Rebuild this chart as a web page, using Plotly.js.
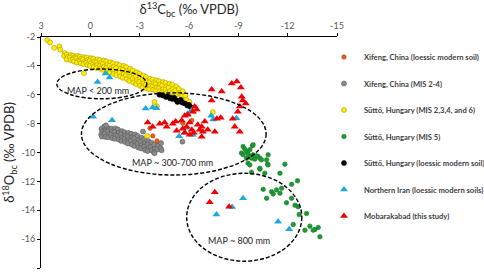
<!DOCTYPE html>
<html>
<head>
<meta charset="utf-8">
<script src="https://cdn.plot.ly/plotly-3.0.1.min.js"></script>
<style>html,body{margin:0;padding:0;background:#fff;}#chart{width:484px;height:273px;}</style>
</head>
<body>
<div id="chart"></div>
<script>
// ---- tick labels ----
const xTickVals = [3, 0, -3, -6, -9, -12, -15];
const xTickText = ["3", "0", "-3", "-6", "-9", "-12", "-15"];
const yTickVals = [-2, -4, -6, -8, -10, -12, -14, -16, -18];
const yTickText = ["-2", "-4", "-6", "-8", "-10", "-12", "-14", "-16", "-18"];

// ---- series names ----
const seriesNames = [
  "Xifeng, China (loessic modern soil)",
  "Xifeng, China (MIS 2-4)",
  "Süttő, Hungary (MIS 2,3,4, and 6)",
  "Süttő, Hungary (MIS 5)",
  "Süttő, Hungary (loessic modern soil)",
  "Northern Iran (loessic modern soils)",
  "Mobarakabad (this study)"
];

// ---- Xifeng loessic modern soil (orange) ----
const xifengModernC = [-3.63, -3.8, -4.05, -5.62, -6.17];
const xifengModernO = [-8.32, -8.85, -9.2, -7.97, -7.79];

// ---- Xifeng MIS 2-4 (gray) ----
const xifengMisC = [
  -0.68,-0.72,-0.66,-0.71, -0.88,-0.93,-0.87,-0.92, -1.12,-1.07,-1.13,-1.08,
  -1.28,-1.33,-1.27,-1.32, -1.52,-1.47,-1.53,-1.48, -1.68,-1.73,-1.67,-1.72,
  -1.92,-1.87,-1.93,-1.88, -2.08,-2.13,-2.07,-2.12, -2.32,-2.27,-2.33,-2.28,
  -2.48,-2.53,-2.47,-2.52, -2.72,-2.67,-2.73,-2.68, -2.88,-2.93,-2.87,-2.92,
  -3.12,-3.07,-3.13,-3.08, -3.28,-3.33,-3.27,-3.32, -3.52,-3.47,-3.53,-3.48,
  -3.72,-3.67,-3.73, -3.88,-3.93,-3.87, -4.12,-4.07, -4.28,-4.33,
  -0.85,-0.95, -3.2, -4.3, -5.6, -3.9
];
const xifengMisO = [
  -8.35,-8.55,-8.75,-8.9, -8.28,-8.48,-8.68,-8.92, -8.32,-8.52,-8.72,-8.95,
  -8.35,-8.55,-8.78,-9.0, -8.33,-8.58,-8.82,-9.05, -8.4,-8.62,-8.85,-9.1,
  -8.52,-8.75,-8.98,-9.2, -8.6,-8.82,-9.05,-9.28, -8.65,-8.9,-9.15,-9.38,
  -8.7,-8.95,-9.2,-9.45, -8.75,-9.02,-9.3,-9.55, -8.85,-9.12,-9.4,-9.65,
  -8.98,-9.25,-9.5,-9.72, -9.08,-9.35,-9.6,-9.82, -9.2,-9.45,-9.7,-9.9,
  -9.32,-9.6,-9.85, -9.45,-9.75,-10.0, -9.5,-9.8, -9.7,-9.85,
  -8.2,-8.12, -8.55, -9.35, -9.25, -10.05
];

// ---- Süttő MIS 2,3,4 and 6 (yellow) ----
const suttoMisC = [
  2.62, 2.45, 2.2, 1.88, 1.83, 0.38, 1.55, 1.6,
  1.42, 1.36, 1.44, 1.18, 1.24, 1.2,
  1.03, 0.97, 1.05, 0.99, 0.78, 0.84, 0.76, 0.82,
  0.63, 0.57, 0.62, 0.58, 0.38, 0.44, 0.36, 0.42,
  0.22, 0.17, 0.24, 0.18, -0.03, 0.04, -0.02, 0.03,
  -0.18, -0.24, -0.17, -0.22, -0.43, -0.37, -0.42, -0.38,
  -0.57, -0.63, -0.58, -0.62, -0.82, -0.77, -0.83, -0.78,
  -0.97, -1.03, -0.98, -1.02, -1.22, -1.17, -1.23, -1.18,
  -1.38, -1.43, -1.37, -1.42, -1.62, -1.57, -1.63, -1.58,
  -1.78, -1.83, -1.77, -1.82, -2.02, -1.97, -2.03, -1.98,
  -2.18, -2.23, -2.17, -2.22, -2.42, -2.37, -2.43, -2.38,
  -2.58, -2.63, -2.57, -2.62, -2.82, -2.77, -2.83, -2.78,
  -2.98, -3.03, -2.97, -3.02, -3.22, -3.17, -3.23, -3.18,
  -3.38, -3.43, -3.37, -3.42, -3.62, -3.57, -3.63, -3.58,
  -3.78, -3.83, -3.77, -3.82, -4.02, -3.97, -4.03, -3.98,
  -4.18, -4.23, -4.17, -4.22, -4.42, -4.37, -4.43, -4.38,
  -4.58, -4.63, -4.57, -4.62, -4.82, -4.77, -4.83,
  -4.98, -5.03, -4.97, -5.22, -5.17, -5.23,
  -5.38, -5.43, -5.62, -5.57, -5.78, -5.83, -6.02,
  -3.9, -4.05, -6.3, -7.45, -3.45
];
const suttoMisO = [
  -2.22, -2.38, -2.75, -2.66, -2.88, -4.5, -3.12, -3.3,
  -3.22, -3.38, -3.55, -3.25, -3.4, -3.6,
  -3.28, -3.42, -3.56, -3.7, -3.32, -3.48, -3.64, -3.76,
  -3.36, -3.52, -3.68, -3.82, -3.4, -3.56, -3.72, -3.88,
  -3.42, -3.6, -3.78, -3.94, -3.46, -3.64, -3.82, -4.0,
  -3.5, -3.7, -3.9, -4.06, -3.55, -3.75, -3.95, -4.14,
  -3.6, -3.8, -4.0, -4.2, -3.64, -3.86, -4.08, -4.28,
  -3.68, -3.9, -4.14, -4.36, -3.75, -3.98, -4.22, -4.45,
  -3.82, -4.06, -4.3, -4.55, -3.88, -4.14, -4.4, -4.64,
  -3.95, -4.22, -4.48, -4.74, -4.0, -4.28, -4.56, -4.82,
  -4.08, -4.36, -4.64, -4.92, -4.2, -4.48, -4.76, -5.04,
  -4.32, -4.6, -4.88, -5.15, -4.44, -4.72, -5.0, -5.26,
  -4.55, -4.84, -5.12, -5.38, -4.66, -4.94, -5.22, -5.5,
  -4.78, -5.05, -5.32, -5.56, -4.9, -5.15, -5.4, -5.62,
  -4.95, -5.2, -5.45, -5.66, -5.0, -5.25, -5.5, -5.72,
  -5.06, -5.3, -5.55, -5.76, -5.12, -5.36, -5.6, -5.82,
  -5.18, -5.42, -5.66, -5.88, -5.24, -5.5, -5.75,
  -5.3, -5.58, -5.85, -5.42, -5.7, -6.0,
  -5.6, -5.9, -5.75, -6.1, -6.05, -6.35, -6.5,
  -6.5, -6.8, -7.15, -7.2, -8.85
];

// ---- Süttő MIS 5 (green) ----
const suttoMis5C = [
  -9.29, -9.39, -9.5, -9.19, -9.29, -9.59, -9.7, -9.8, -9.5, -9.9,
  -10.0, -10.2, -10.31, -10.41, -9.86, -9.59, -9.7, -10.72, -10.78, -10.31,
  -9.8, -10.61, -11.53, -11.83, -9.9, -9.7, -10.11, -12.6, -12.24,
  -10.51, -11.02, -11.32, -11.53, -11.63, -11.12, -11.93, -10.72, -12.24,
  -12.64, -13.15, -13.35, -13.66, -13.86, -13.55, -13.96, -13.05, -12.34,
  -10.81, -10.31, -12.45, -12.7, -10.81
];
const suttoMis5O = [
  -9.58, -9.76, -9.93, -10.04, -10.16, -10.09, -10.28, -10.39, -10.39, -10.16,
  -10.46, -10.28, -10.39, -10.51, -9.53, -10.74, -10.86, -10.51, -10.81, -11.16,
  -11.36, -11.43, -11.43, -10.81, -9.46, -9.81, -10.23, -11.96, -12.2,
  -12.55, -12.71, -12.59, -12.82, -12.48, -12.87, -13.48, -13.17, -13.17,
  -13.76, -14.22, -15.1, -15.33, -15.19, -15.38, -15.84, -15.38, -14.98,
  -10.86, -11.09, -13.65, -14.3, -10.16
];

// ---- Süttő loessic modern soil (black) ----
const suttoModernC = [-4.2, -4.4, -4.6, -4.7, -4.85, -5.0, -5.1, -5.25, -5.4, -5.5, -5.6, -5.75, -5.9, -6.0, -6.1, -5.3, -4.9];
const suttoModernO = [-6.0, -6.05, -6.15, -6.1, -6.25, -6.3, -6.2, -6.4, -6.45, -6.35, -6.55, -6.6, -6.75, -6.7, -6.85, -6.5, -6.2];

// ---- Northern Iran loessic modern soils (blue triangles) ----
const iranC = [-0.93, -1.17, -0.44, -0.17, -1.32, -3.36, -3.79, -4.03, -6.14, -5.92, -7.35, -7.47, -8.88, -5.83, -5.74, -6.23, -5.4, -9.29, -8.62, -7.67, -11.42, -12.09];
const iranO = [-4.53, -4.8, -5.12, -7.52, -7.76, -6.96, -6.89, -6.93, -7.1, -7.31, -7.45, -7.72, -7.62, -8.28, -8.63, -8.77, -8.87, -13.17, -13.78, -14.3, -14.8, -15.31];

// ---- Mobarakabad (red triangles) ----
const mobarakabadC = [
  -3.49, -3.79, -4.22, -4.52, -4.64, -5.01, -5.19, -5.25, -5.56, -5.62,
  -5.74, -5.86, -5.74, -5.92, -6.04, -6.17, -6.29, -6.04, -6.35, -6.47,
  -6.23, -6.65, -6.77, -6.84, -6.77, -6.96, -7.14, -7.57, -7.38, -7.38,
  -7.99, -7.69, -7.93, -8.6, -8.91, -9.15, -9.21, -9.27, -9.45, -9.09,
  -8.97, -8.66, -8.78, -9.09, -6.53, -7.57, -7.26, -8.44
];
const mobarakabadO = [
  -7.93, -8.21, -8.0, -7.93, -8.21, -8.0, -7.86, -8.49, -7.79, -8.35,
  -7.45, -8.21, -8.63, -7.38, -7.93, -8.42, -8.63, -8.77, -6.82, -7.03,
  -7.17, -8.42, -8.21, -8.56, -8.91, -7.86, -8.42, -8.56, -5.64, -6.4,
  -5.78, -7.66, -7.59, -5.22, -5.08, -5.5, -6.13, -6.4, -6.61, -6.82,
  -7.17, -7.66, -8.21, -8.56, -8.07, -12.76, -13.45, -13.76
];

// ---- MAP zones (ellipses) and labels ----
const zoneLabels = ["MAP < 200 mm", "MAP ~ 300-700 mm", "MAP ~ 800 mm"];
const zoneLabelC = [-0.47, -4.97, -9.04];
const zoneLabelO = [-5.73, -10.66, -16.08];
const zoneC0 = [2.04, 0.54, -5.86];
const zoneC1 = [-3.43, -10.69, -12.86];
const zoneO0 = [-4.22, -5.87, -11.44];
const zoneO1 = [-6.28, -11.56, -17.53];

const FONT = "Lato, 'Open Sans', 'DejaVu Sans', sans-serif";

function circleTrace(i, xs, ys, fill, edge, rank, size) {
  return {
    type: "scatter", mode: "markers", x: xs, y: ys, name: seriesNames[i],
    legendgroup: "g" + i, legendrank: rank,
    marker: {symbol: "circle", size: size || 5, color: fill, line: {color: edge, width: 0.6}},
    hoverinfo: "x+y"
  };
}
function triTrace(i, xs, ys, fill, rank) {
  return {
    type: "scatter", mode: "markers", x: xs, y: ys, name: seriesNames[i],
    legendgroup: "g" + i, legendrank: rank,
    marker: {symbol: "triangle-up", size: 7, color: fill, line: {width: 0}},
    hoverinfo: "x+y"
  };
}

const traces = [
  circleTrace(1, xifengMisC, xifengMisO, "#8a8a8a", "#5a5a5a", 2),
  circleTrace(0, xifengModernC, xifengModernO, "#e2601b", "#b24a12", 1, 4.5),
  circleTrace(2, suttoMisC, suttoMisO, "#ffeb00", "#a89a10", 3),
  circleTrace(3, suttoMis5C, suttoMis5O, "#1e9a34", "#177a28", 4, 4.5),
  circleTrace(4, suttoModernC, suttoModernO, "#000000", "#000000", 5),
  triTrace(5, iranC, iranO, "#1fa8e0", 6),
  triTrace(6, mobarakabadC, mobarakabadO, "#f00000", 7)
];

const shapes = zoneC0.map((c0, k) => ({
  type: "circle", xref: "x", yref: "y",
  x0: c0, x1: zoneC1[k], y0: zoneO0[k], y1: zoneO1[k],
  line: {color: "#000000", width: 1.4, dash: "4px,2px"}, layer: "above"
}));

const annotations = zoneLabels.map((t, k) => ({
  xref: "x", yref: "y", x: zoneLabelC[k], y: zoneLabelO[k], text: t,
  showarrow: false, font: {family: FONT, size: 9, color: "#262626"}
}));

const layout = {
  width: 484, height: 273,
  margin: {l: 41, r: 147, t: 37, b: 5, autoexpand: false},
  paper_bgcolor: "#ffffff", plot_bgcolor: "#ffffff",
  font: {family: FONT, color: "#404040"},
  showlegend: true,
  legend: {
    x: 0.956, xanchor: "left", y: 0.976, yanchor: "top",
    font: {family: FONT, size: 7.6, color: "#404040", weight: "bold"},
    tracegroupgap: 7.5, bgcolor: "rgba(0,0,0,0)", borderwidth: 0,
    itemsizing: "trace", traceorder: "grouped"
  },
  xaxis: {
    side: "top", range: [3, -15], tickvals: xTickVals, ticktext: xTickText,
    ticks: "outside", ticklen: 3, tickcolor: "#000", tickwidth: 1,
    showline: true, linecolor: "#000", linewidth: 1, showgrid: false, zeroline: false,
    tickfont: {family: FONT, size: 9, color: "#595959"},
    title: {text: "δ<sup>13</sup>C<sub>bc</sub> (‰ VPDB)", font: {family: FONT, size: 13, color: "#262626"}, standoff: 4}
  },
  yaxis: {
    range: [-18, -2], tickvals: yTickVals, ticktext: yTickText,
    ticks: "outside", ticklen: 3, tickcolor: "#000", tickwidth: 1,
    showline: true, linecolor: "#000", linewidth: 1, showgrid: false, zeroline: false,
    tickfont: {family: FONT, size: 9, color: "#595959"},
    title: {text: "δ<sup>18</sup>O<sub>bc</sub> (‰ VPDB)", font: {family: FONT, size: 13, color: "#262626"}, standoff: 4}
  },
  shapes: shapes,
  annotations: annotations
};

Plotly.newPlot("chart", traces, layout, {displayModeBar: false, staticPlot: true});
</script>
</body>
</html>
